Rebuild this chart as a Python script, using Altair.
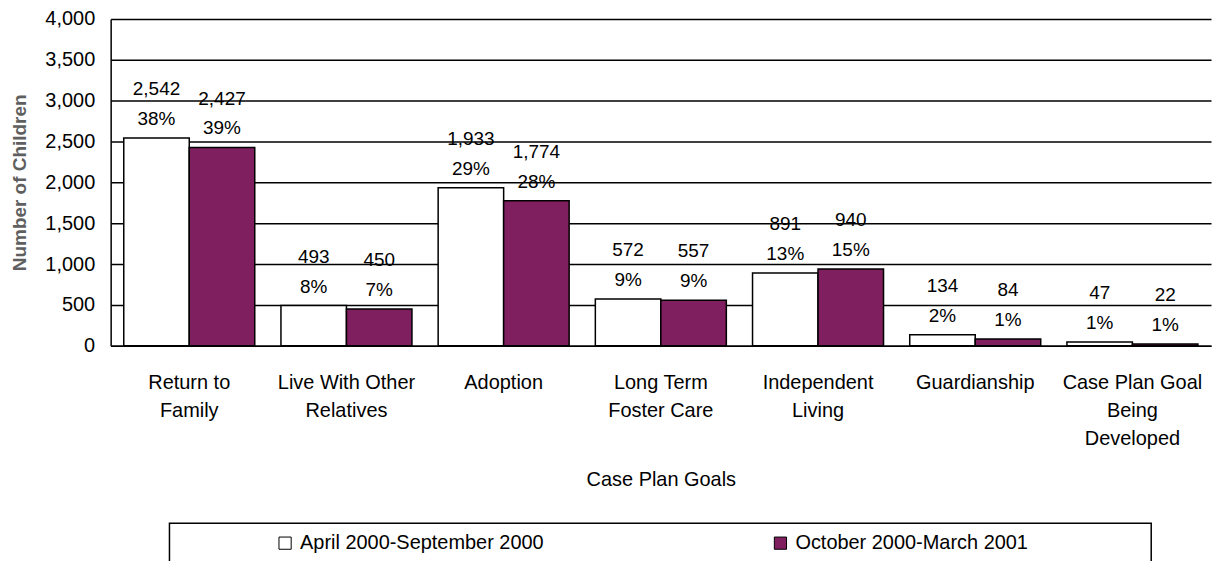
import json
import altair as alt
import pandas as pd

categories = ["Return to Family", "Live With Other Relatives", "Adoption",
              "Long Term Foster Care", "Independent Living", "Guardianship",
              "Case Plan Goal Being Developed"]
label_lines = [["Return to", "Family"], ["Live With Other", "Relatives"], ["Adoption"],
               ["Long Term", "Foster Care"], ["Independent", "Living"], ["Guardianship"],
               ["Case Plan Goal", "Being", "Developed"]]
series = ["April 2000-September 2000", "October 2000-March 2001"]
values_apr = [2542, 493, 1933, 572, 891, 134, 47]
values_oct = [2427, 450, 1774, 557, 940, 84, 22]
pct_apr = [38, 8, 29, 9, 13, 2, 1]
pct_oct = [39, 7, 28, 9, 15, 1, 1]
y_ticks = [0, 500, 1000, 1500, 2000, 2500, 3000, 3500, 4000]
colors = ["#FFFFFF", "#7F1F5F"]

rows = []
for s, vals, pcts in [(series[0], values_apr, pct_apr), (series[1], values_oct, pct_oct)]:
    for c, v, p in zip(categories, vals, pcts):
        rows.append({"goal": c, "period": s, "children": v, "pct": p})
df = pd.DataFrame(rows)

label_map = json.dumps(dict(zip(categories, label_lines)))

FONT = "Liberation Sans"

base = alt.Chart(df).encode(
    x=alt.X("goal:N", sort=categories,
            scale=alt.Scale(paddingInner=0, paddingOuter=0),
            axis=alt.Axis(title="Case Plan Goals", labelAngle=0,
                          labelExpr=label_map + "[datum.value]",
                          labelFontSize=20, labelLineHeight=28, labelPadding=27,
                          labelColor="black", ticks=False, tickSize=0,
                          domainColor="black", domainWidth=1.5,
                          titleFontSize=20, titleFontWeight="normal",
                          titleColor="black", titlePadding=21)),
    xOffset=alt.XOffset("period:N", sort=series,
                        scale=alt.Scale(domain=series, paddingInner=0, paddingOuter=0.2)),
    y=alt.Y("children:Q",
            scale=alt.Scale(domain=[0, 4000], nice=False),
            axis=alt.Axis(title="Number of Children", values=y_ticks, format=",.0f",
                          labelFontSize=20, labelColor="black", labelPadding=16,
                          ticks=False, tickSize=0, domainColor="black", domainWidth=1.5,
                          grid=True, gridColor="black", gridWidth=1.5,
                          titleFontSize=19, titleFontWeight="bold", titleColor="#5f5f5f",
                          titlePadding=15)),
)

bars = base.mark_bar(stroke="black", strokeWidth=1.5).encode(
    color=alt.Color("period:N", sort=series,
                    scale=alt.Scale(domain=series, range=colors),
                    legend=alt.Legend(title=" ", titleOrient="right", titlePadding=114,
                                      orient="none", legendX=59, legendY=506,
                                      direction="horizontal", columns=2,
                                      symbolType="square", symbolSize=150,
                                      symbolStrokeColor="black", symbolStrokeWidth=1,
                                      labelFontSize=20, labelColor="black", labelOffset=5,
                                      labelLimit=400,
                                      padding=10, symbolOffset=96, columnPadding=131,
                                      strokeColor="black"))
)

val_text = base.mark_text(baseline="middle", dy=-49, fontSize=19, color="black").encode(
    text=alt.Text("children:Q", format=",.0f")
)
pct_text = base.transform_calculate(
    pct_label="datum.pct + '%'"
).mark_text(baseline="middle", dy=-19, fontSize=19, color="black").encode(
    text="pct_label:N"
)

chart = alt.layer(bars, val_text, pct_text).properties(
    width=1104, height=328,
    padding={"left": 2, "top": 0, "right": 5, "bottom": 5}
).configure(font=FONT).configure_view(strokeWidth=0).configure_legend(strokeWidth=1.5)

chart.save("out.html", embed_options={"renderer": "svg", "actions": False})
